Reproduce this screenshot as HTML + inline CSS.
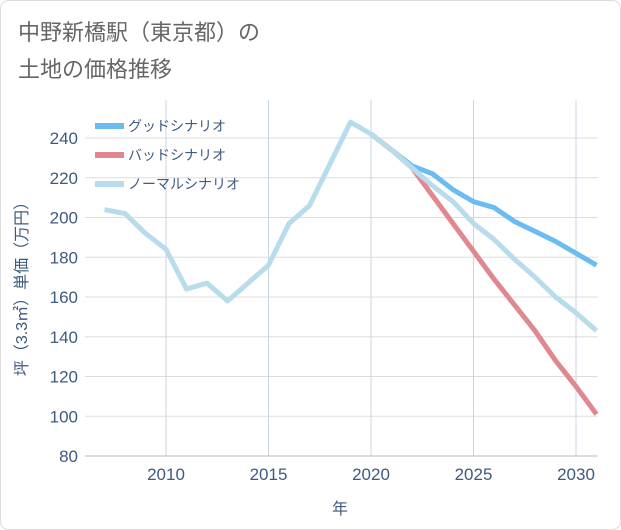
<!DOCTYPE html>
<html><head><meta charset="utf-8"><style>
body{margin:0;background:#fff;}
svg{display:block;font-family:"Liberation Sans","Noto Sans CJK JP",sans-serif;}
</style></head><body>
<svg width="621" height="530">
<rect x="0.5" y="0.5" width="620" height="529" rx="8" fill="#fff" stroke="#ddd"/>
<text x="18" y="40" font-size="22" fill="#666">中野新橋駅（東京都）の</text>
<text x="18" y="77" font-size="22" fill="#666">土地の価格推移</text>
<g id="grid"></g>
<g id="series"></g>
<g id="legend"></g>
<text transform="translate(27,285) rotate(-90)" text-anchor="middle" font-size="16" fill="#3d5a80">坪（3.3㎡）単価（万円）</text>
<text x="340" y="514" text-anchor="middle" font-size="16" fill="#3d5a80">年</text>
</svg>
<script>
const years=[2007,2008,2009,2010,2011,2012,2013,2014,2015,2016,2017,2018,2019,2020,2021,2022,2023,2024,2025,2026,2027,2028,2029,2030,2031];
const normalVals=[204,202,192,184,164,167,158,167,176,197,206,227,248,242,234,225,216,208,197,189,179,170,160,152,143];
const goodYears=[2020,2021,2022,2023,2024,2025,2026,2027,2028,2029,2030,2031];
const goodVals=[242,234,226,222,214,208,205,198,193,188,182,176];
const badYears=[2020,2021,2022,2023,2024,2025,2026,2027,2028,2029,2030,2031];
const badVals=[242,234,225,211,197,183,169,156,143,128,115,101];
const yTicks=[80,100,120,140,160,180,200,220,240];
const xTicks=[2010,2015,2020,2025,2030];
const NS='http://www.w3.org/2000/svg';
const L=85,R=598,T=100,B=456;
const x=v=>166+(v-2010)*(576-166)/20;
const y=v=>456-(v-80)*(456-138)/160;
function mk(tag,a,p){const e=document.createElementNS(NS,tag);for(const k in a)e.setAttribute(k,a[k]);p.appendChild(e);return e;}
const g=document.getElementById('grid');
yTicks.forEach(t=>{
 const l=mk('line',{x1:L,x2:R,y1:y(t),y2:y(t),stroke:'#ddd'},g);
 
 
 const tx=mk('text',{x:78,y:y(t)+6,'text-anchor':'end','font-size':17,fill:'#3d5a80'},g);tx.textContent=t;
 
 
});
xTicks.forEach(t=>{
 const l=mk('line',{x1:x(t),x2:x(t),y1:T,y2:B,stroke:'#c8d6e2'},g);
 
 
 const tx=mk('text',{x:x(t),y:480,'text-anchor':'middle','font-size':17,fill:'#3d5a80'},g);tx.textContent=t;
 
 
});
const a=mk('line',{x1:L,x2:R,y1:B,y2:B,stroke:'#bbb'},g);


const s=document.getElementById('series');
function line(xs,vs,c,name){
 const p=mk('polyline',{points:xs.map((v,i)=>x(v)+','+y(vs[i])).join(' '),fill:'none',stroke:c,'stroke-width':5,'stroke-linejoin':'round'},s);
 
 
}
line(goodYears,goodVals,'#6bbcf0','good-scenario-line');
line(badYears,badVals,'#e08890','bad-scenario-line');
line(years,normalVals,'#b8dcec','normal-scenario-line');
const lg=document.getElementById('legend');
[['グッドシナリオ','#6bbcf0'],['バッドシナリオ','#e08890'],['ノーマルシナリオ','#b8dcec']].forEach((d,i)=>{
 const yy=126+i*29;
 const l=mk('line',{x1:95,x2:124,y1:yy,y2:yy,stroke:d[1],'stroke-width':6},lg);
 
 
 const t=mk('text',{x:128,y:yy+5,'font-size':14,fill:'#3d5a80'},lg);t.textContent=d[0];
 
 
});
</script>
</body></html>
